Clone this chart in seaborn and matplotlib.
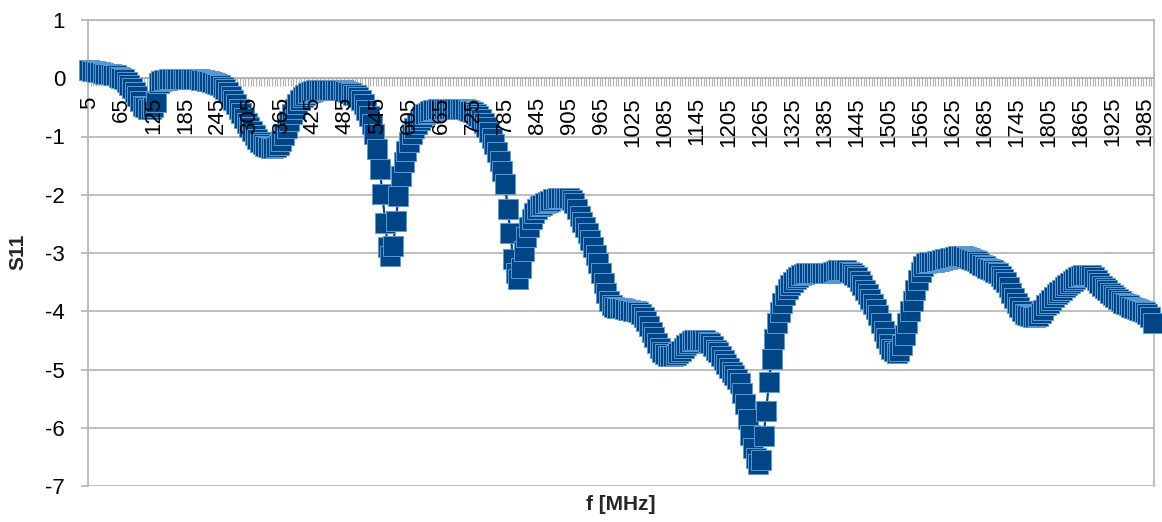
import numpy as np
import pandas as pd
import matplotlib
matplotlib.use("Agg")
import matplotlib.pyplot as plt
import seaborn as sns

# Frequency categories (MHz) and which of them carry a tick label
freq_mhz = np.arange(5, 2001, 5)
label_freqs = np.arange(5, 2001, 60)
y_ticks = [1, 0, -1, -2, -3, -4, -5, -6, -7]

# Measured S11 per 5 MHz step, split into 500 MHz bands
s11_5_500 = [
    0.14, 0.13, 0.12, 0.11, 0.10, 0.09, 0.08, 0.07, 0.07, 0.06,
    0.05, 0.03, 0.01, -0.02, -0.06, -0.11, -0.17, -0.24, -0.31, -0.39,
    -0.47, -0.50, -0.52, -0.52, -0.50, -0.40, -0.08, -0.04, -0.03, -0.03,
    -0.02, -0.02, -0.02, -0.01, -0.01, -0.01, -0.01, -0.01, -0.01, -0.02,
    -0.02, -0.02, -0.03, -0.03, -0.04, -0.05, -0.06, -0.08, -0.10, -0.12,
    -0.15, -0.19, -0.24, -0.30, -0.37, -0.44, -0.52, -0.60, -0.68, -0.76,
    -0.84, -0.91, -0.98, -1.04, -1.09, -1.13, -1.16, -1.18, -1.19, -1.19,
    -1.18, -1.15, -1.08, -0.98, -0.86, -0.74, -0.62, -0.52, -0.44, -0.37,
    -0.32, -0.28, -0.25, -0.23, -0.22, -0.21, -0.20, -0.20, -0.20, -0.20,
    -0.20, -0.20, -0.20, -0.20, -0.20, -0.21, -0.22, -0.24, -0.26, -0.29,
]
s11_505_1000 = [
    -0.29, -0.33, -0.38, -0.45, -0.54, -0.65, -0.78, -0.96, -1.21, -1.56,
    -1.99, -2.48, -2.90, -3.05, -2.88, -2.45, -2.02, -1.68, -1.44, -1.25,
    -1.09, -0.96, -0.86, -0.78, -0.71, -0.66, -0.62, -0.59, -0.57, -0.55,
    -0.54, -0.53, -0.52, -0.52, -0.52, -0.52, -0.52, -0.52, -0.52, -0.52,
    -0.52, -0.53, -0.54, -0.56, -0.58, -0.61, -0.65, -0.70, -0.76, -0.84,
    -0.93, -1.02, -1.13, -1.27, -1.42, -1.60, -1.82, -2.24, -2.65, -3.11,
    -3.35, -3.45, -3.25, -2.97, -2.72, -2.55, -2.42, -2.32, -2.25, -2.20,
    -2.17, -2.14, -2.12, -2.10, -2.08, -2.07, -2.06, -2.05, -2.05, -2.05,
    -2.06, -2.09, -2.15, -2.25, -2.36, -2.46, -2.56, -2.66, -2.77, -2.90,
    -3.03, -3.18, -3.35, -3.52, -3.68, -3.82, -3.90, -3.93, -3.94, -3.95,
]
s11_1005_1500 = [
    -3.95, -3.96, -3.97, -3.98, -3.99, -4.00, -4.02, -4.05, -4.10, -4.17,
    -4.25, -4.35, -4.45, -4.55, -4.63, -4.70, -4.74, -4.76, -4.77, -4.77,
    -4.75, -4.72, -4.68, -4.63, -4.58, -4.54, -4.51, -4.50, -4.49, -4.49,
    -4.49, -4.50, -4.52, -4.55, -4.60, -4.66, -4.70, -4.76, -4.83, -4.90,
    -4.97, -5.04, -5.10, -5.16, -5.24, -5.40, -5.60, -5.85, -6.12, -6.34,
    -6.52, -6.62, -6.55, -6.14, -5.71, -5.22, -4.82, -4.48, -4.21, -4.02,
    -3.85, -3.72, -3.62, -3.55, -3.50, -3.45, -3.41, -3.38, -3.36, -3.35,
    -3.34, -3.34, -3.34, -3.34, -3.34, -3.34, -3.34, -3.34, -3.34, -3.33,
    -3.31, -3.30, -3.29, -3.29, -3.30, -3.32, -3.35, -3.38, -3.42, -3.48,
    -3.55, -3.63, -3.71, -3.79, -3.87, -3.96, -4.07, -4.20, -4.34, -4.46,
]
s11_1505_2000 = [
    -4.56, -4.64, -4.69, -4.71, -4.68, -4.58, -4.40, -4.20, -4.00, -3.82,
    -3.64, -3.47, -3.33, -3.23, -3.18, -3.16, -3.15, -3.15, -3.14, -3.13,
    -3.12, -3.11, -3.10, -3.09, -3.08, -3.07, -3.06, -3.06, -3.06, -3.07,
    -3.08, -3.10, -3.12, -3.14, -3.17, -3.20, -3.23, -3.26, -3.28, -3.30,
    -3.32, -3.35, -3.39, -3.45, -3.50, -3.58, -3.68, -3.77, -3.86, -3.93,
    -3.99, -4.04, -4.07, -4.09, -4.10, -4.10, -4.08, -4.03, -3.97, -3.90,
    -3.85, -3.80, -3.75, -3.71, -3.67, -3.63, -3.59, -3.55, -3.51, -3.48,
    -3.45, -3.42, -3.40, -3.38, -3.37, -3.37, -3.38, -3.41, -3.47, -3.52,
    -3.56, -3.60, -3.64, -3.68, -3.72, -3.76, -3.79, -3.82, -3.85, -3.87,
    -3.90, -3.92, -3.94, -3.96, -3.98, -4.00, -4.02, -4.05, -4.10, -4.20,
]

s11 = np.concatenate([s11_5_500, s11_505_1000, s11_1005_1500, s11_1505_2000])
df = pd.DataFrame({"f": freq_mhz, "S11": s11})

sns.set_theme(style="white")
plt.rcParams["font.family"] = ["Liberation Sans", "DejaVu Sans"]

GRID = "#b3b3b3"
FILL = "#004586"
EDGE = "#5b9bd5"

W, H = 1162, 522
fig = plt.figure(figsize=(W / 100, H / 100), dpi=100)
ax = fig.add_axes([88 / W, 36 / H, 1066 / W, 466 / H])

sns.lineplot(
    data=df, x="f", y="S11", ax=ax, errorbar=None,
    color=FILL, linewidth=1.6,
    marker="s", markersize=14,
    markerfacecolor=FILL, markeredgecolor=EDGE, markeredgewidth=0.7,
    clip_on=False, zorder=2,
)

half_step = 2.5
ax.set_xlim(freq_mhz[0] - half_step, freq_mhz[-1] + half_step)
ax.set_ylim(-7, 1)

# Horizontal grid behind the series, category labels in front of it
ax.yaxis.set_zorder(0.5)
ax.xaxis.set_zorder(3)
ax.yaxis.grid(True, color=GRID, linewidth=1.2)
ax.xaxis.grid(False)

for side, sp in ax.spines.items():
    sp.set_visible(True)
    sp.set_color(GRID)
    sp.set_linewidth(1.2)
    sp.set_zorder(0.6)
ax.spines["bottom"].set_position(("data", 0))

# Category boundary marks along the zero line
bounds = np.append(freq_mhz - half_step, freq_mhz[-1] + half_step)
ax.vlines(bounds, -0.13, 0, colors=GRID, linewidth=0.8, zorder=0.6)

ax.set_xticks(label_freqs)
ax.set_xticklabels([str(v) for v in label_freqs], rotation=90)
ax.tick_params(axis="x", length=0, pad=13.5, labelsize=16, labelcolor="black")

ax.set_yticks(y_ticks)
ax.set_yticklabels([str(v) for v in y_ticks])
ax.tick_params(axis="y", direction="out", length=5, width=1.2, color=GRID,
               pad=11.5, labelsize=16, labelcolor="black", left=True)

ax.set_xlabel("")
ax.set_ylabel("")
fig.text(621 / W, 1 - 505 / H, "f [MHz]", ha="center", va="center",
         fontsize=15, fontweight="bold")
fig.text(18 / W, 1 - 252 / H, "S11", ha="center", va="center",
         rotation=90, fontsize=15, fontweight="bold")

fig.savefig("out.png", dpi=100)
